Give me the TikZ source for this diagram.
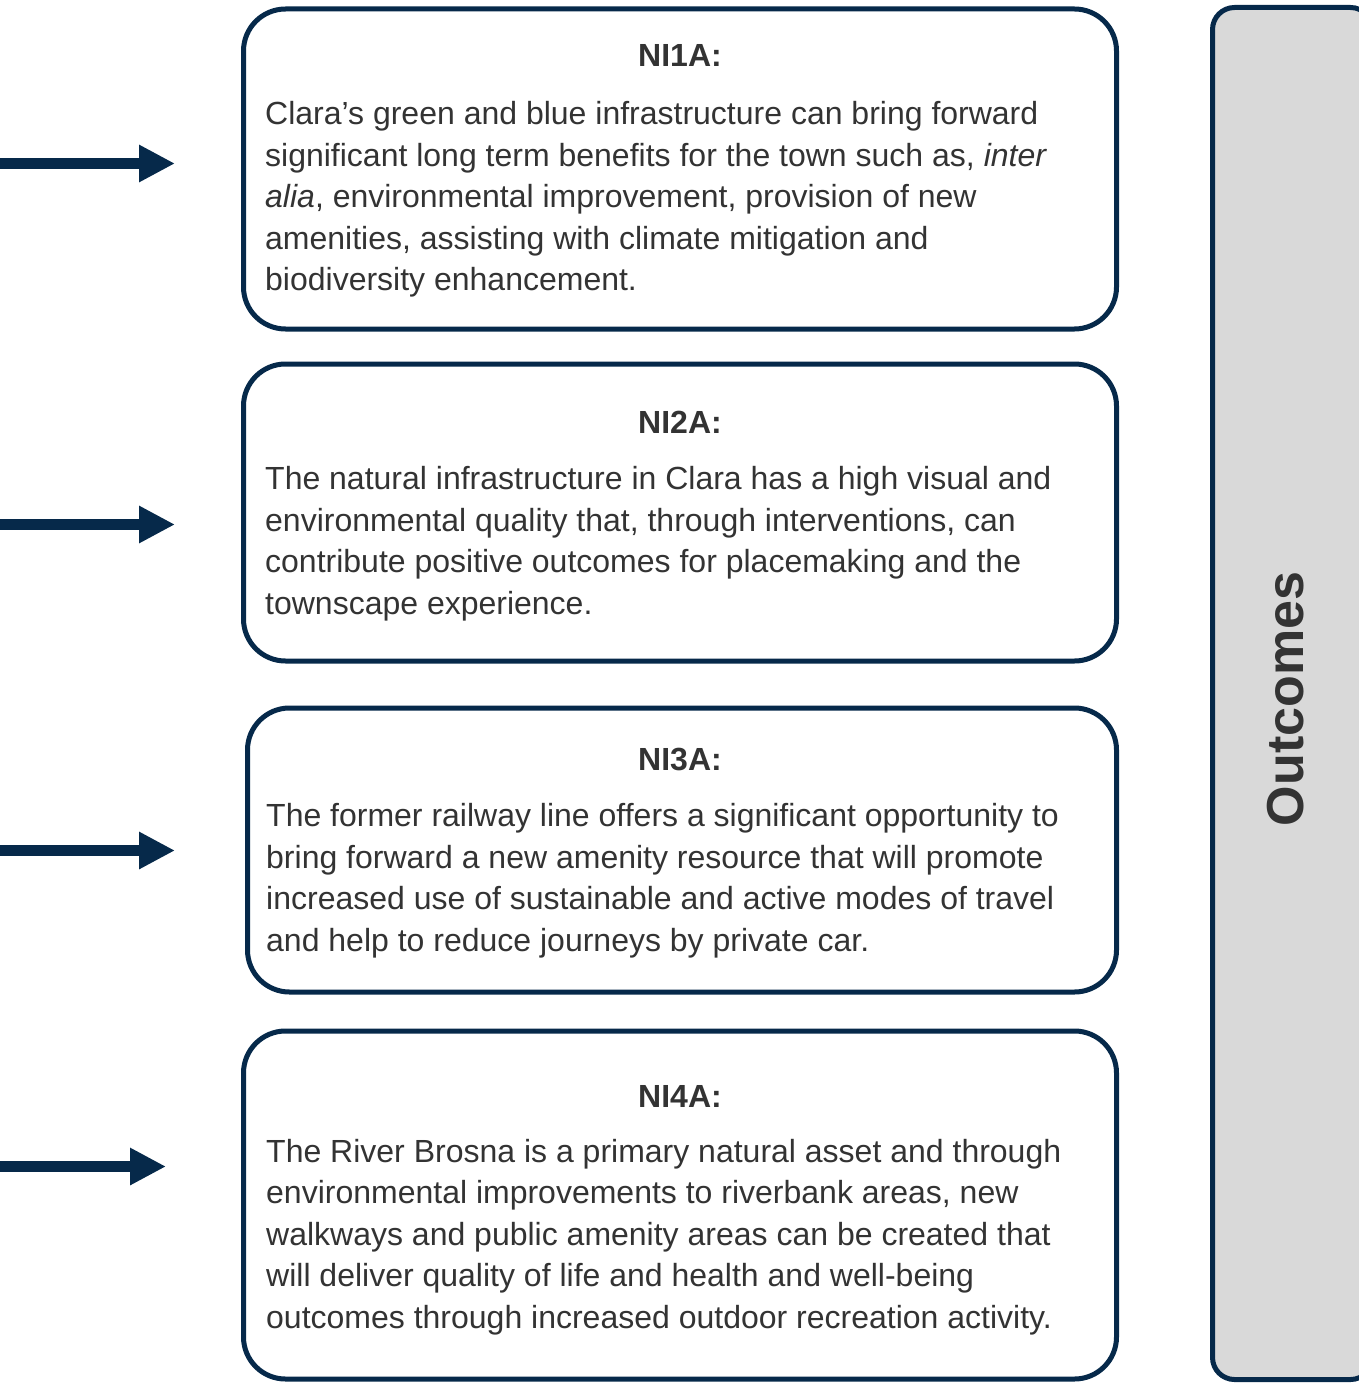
\documentclass[tikz,border=0pt]{standalone}
\usepackage{fontspec}
\setmainfont{Liberation Sans}
\usetikzlibrary{arrows.meta}
\definecolor{navy}{HTML}{06294A}
\definecolor{ink}{HTML}{333333}
\definecolor{panelgrey}{HTML}{D9D9D9}
\tikzset{
  card/.style={draw=navy, line width=5pt, rounded corners=42pt, fill=white,
    inner sep=0pt, outer sep=0pt, anchor=north west},
  cardtitle/.style={anchor=base, inner sep=0pt, text=ink,
    font=\fontsize{32}{41.4}\selectfont\bfseries},
  % anchored on the baseline of the last line of the block
  cardbody/.style={anchor=base west, inner sep=0pt, align=left, text=ink,
    font=\fontsize{32}{41.4}\selectfont},
  feed/.style={draw=navy, line width=11.5pt,
    -{Triangle[length=36pt,width=35pt]}},
  sidepanel/.style={draw=navy, line width=5pt, rounded corners=22pt,
    fill=panelgrey, inner sep=0pt, outer sep=0pt, anchor=north west},
}
\begin{document}
\begin{tikzpicture}[x=1pt,y=-1pt]
\useasboundingbox (0,0) rectangle (1358,1383);

% side panel with the vertical caption
\node[sidepanel, minimum width=160pt, minimum height=1372pt] (panel) at (1212.5,7.5) {};
\node[rotate=90, inner sep=0pt, text=ink, font=\fontsize{52}{60}\selectfont\bfseries]
  (outcomes) at (1286,699) {Outcomes};

% card 1
\node[card, minimum width=873pt, minimum height=320pt] (c1) at (243.5,9) {};
\node[cardtitle] (t1) at (680,67) {NI1A:};
\node[cardbody] (b1) at (265,290.5) {Clara’s green and blue infrastructure can bring forward\\
significant long term benefits for the town such as, \textit{inter}\\
\textit{alia}, environmental improvement, provision of new\\
amenities, assisting with climate mitigation and\\
biodiversity enhancement.};

% card 2
\node[card, minimum width=873pt, minimum height=297pt] (c2) at (243.5,364) {};
\node[cardtitle] (t2) at (680,433) {NI2A:};
\node[cardbody] (b2) at (265,614) {The natural infrastructure in Clara has a high visual and\\
environmental quality that, through interventions, can\\
contribute positive outcomes for placemaking and the\\
townscape experience.};

% card 3
\node[card, minimum width=869pt, minimum height=284pt] (c3) at (247.5,708) {};
\node[cardtitle] (t3) at (680,770) {NI3A:};
\node[cardbody] (b3) at (266,951) {The former railway line offers a significant opportunity to\\
bring forward a new amenity resource that will promote\\
increased use of sustainable and active modes of travel\\
and help to reduce journeys by private car.};

% card 4
\node[card, minimum width=873pt, minimum height=348pt] (c4) at (243.5,1031) {};
\node[cardtitle] (t4) at (680,1107) {NI4A:};
\node[cardbody] (b4) at (266,1328) {The River Brosna is a primary natural asset and through\\
environmental improvements to riverbank areas, new\\
walkways and public amenity areas can be created that\\
will deliver quality of life and health and well-being\\
outcomes through increased outdoor recreation activity.};

% incoming arrows
\coordinate (s1) at (0,163.5);   \coordinate (e1) at (175,163.5);
\coordinate (s2) at (0,524.5);   \coordinate (e2) at (175,524.5);
\coordinate (s3) at (0,850.5);   \coordinate (e3) at (175,850.5);
\coordinate (s4) at (0,1166.5);  \coordinate (e4) at (166,1166.5);
\draw[feed] (s1) -- (e1);
\draw[feed] (s2) -- (e2);
\draw[feed] (s3) -- (e3);
\draw[feed] (s4) -- (e4);
\end{tikzpicture}
\end{document}
